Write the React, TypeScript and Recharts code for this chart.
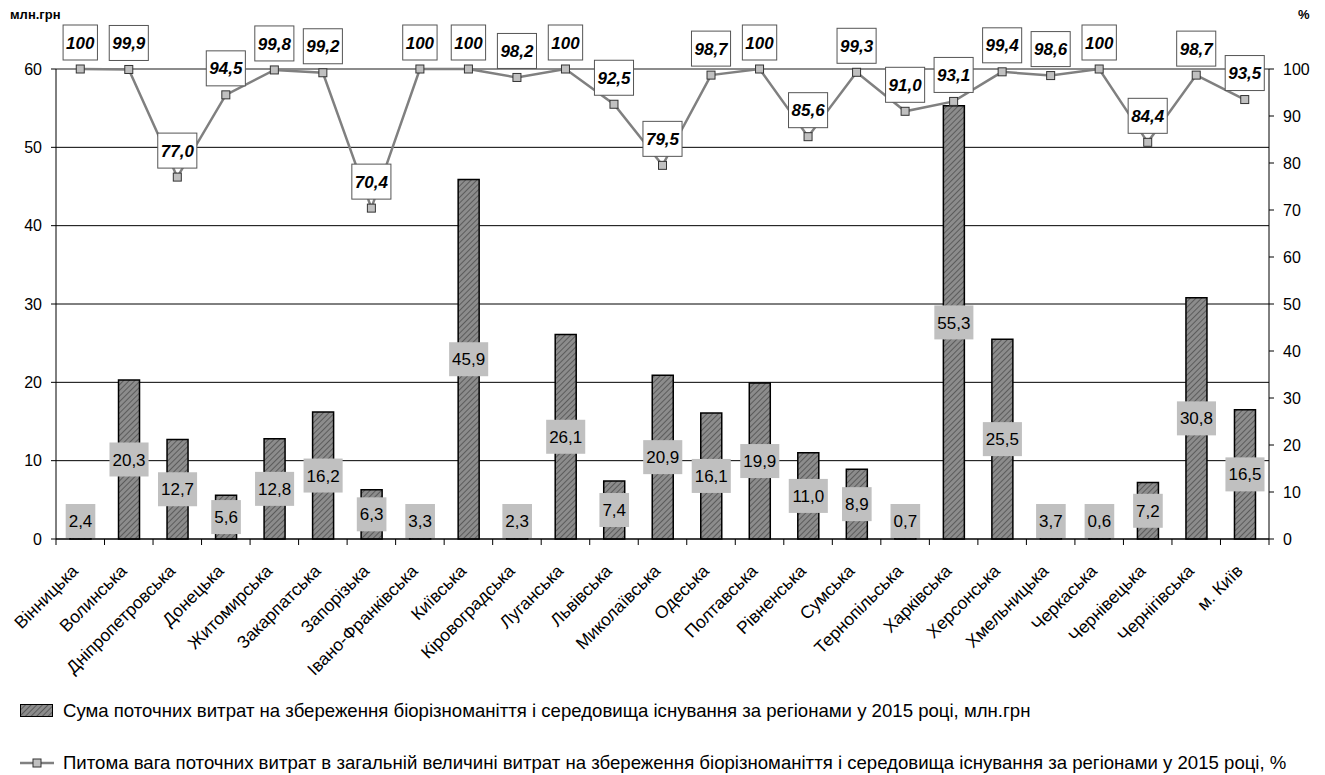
import { ComposedChart, Bar, Line, XAxis, YAxis, CartesianGrid, LabelList, ReferenceLine } from 'recharts';

const regions = [
    'Вінницька', 'Волинська', 'Дніпропетровська', 'Донецька', 'Житомирська', 'Закарпатська',
    'Запорізька', 'Івано-Франківська', 'Київська', 'Кіровоградська', 'Луганська', 'Львівська',
    'Миколаївська', 'Одеська', 'Полтавська', 'Рівненська', 'Сумська', 'Тернопільська',
    'Харківська', 'Херсонська', 'Хмельницька', 'Черкаська', 'Чернівецька', 'Чернігівська', 'м. Київ',
];

// млн.грн
const spending = [
    2.4, 20.3, 12.7, 5.6, 12.8, 16.2, 6.3, 3.3, 45.9, 2.3, 26.1, 7.4,
    20.9, 16.1, 19.9, 11.0, 8.9, 0.7, 55.3, 25.5, 3.7, 0.6, 7.2, 30.8, 16.5,
];

// %
const share = [
    100, 99.9, 77.0, 94.5, 99.8, 99.2, 70.4, 100, 100, 98.2, 100, 92.5,
    79.5, 98.7, 100, 85.6, 99.3, 91.0, 93.1, 99.4, 98.6, 100, 84.4, 98.7, 93.5,
];

const leftTicks = [0, 10, 20, 30, 40, 50, 60];
const rightTicks = [0, 10, 20, 30, 40, 50, 60, 70, 80, 90, 100];

const barLegend = 'Сума поточних витрат на збереження біорізноманіття і середовища існування за регіонами у 2015 році, млн.грн';
const lineLegend = 'Питома вага поточних витрат в загальній величині витрат на збереження біорізноманіття і середовища існування за регіонами у 2015 році, %';

const data = regions.map((region, i) => ({ region, spending: spending[i], share: share[i] }));

const FONT = '"Liberation Sans", Arial, sans-serif';
const PLOT_LEFT = 56;
const PLOT_RIGHT = 1269;
const PLOT_BOTTOM = 539;

const fmt = (v: number) => (v === 100 ? '100' : v.toFixed(1).replace('.', ','));

// rough Arial widths
const textWidth = (s: string, size: number) =>
    s.split('').reduce((w, c) => w + (c === ',' ? 0.278 : 0.556) * size, 0);

const BarValueLabel = (props: any) => {
    const vb = props.viewBox || props;
    const { x, y, width, height } = vb;
    const text = fmt(Number(props.value));
    const w = textWidth(text, 17) + 6;
    const h = 34;
    const cx = x + width / 2;
    const bottom = y + height;
    let cy = y + height / 2;
    if (cy + h / 2 > bottom - 1) cy = bottom - 1 - h / 2;
    return (
        <g>
            <rect x={cx - w / 2} y={cy - h / 2} width={w} height={h} fill="#c0c0c0" />
            <text x={cx} y={cy} dy="0.36em" textAnchor="middle" fontSize={17} fontFamily={FONT} fill="#000">
                {text}
            </text>
        </g>
    );
};

const ShareLabel = (props: any) => {
    const vb = props.viewBox || {};
    const x = vb.x ?? props.x;
    const y = vb.y ?? props.y;
    const text = fmt(Number(props.value));
    const w = textWidth(text, 17) + 6;
    const h = 35;
    const bottom = y - 9;
    return (
        <g>
            <rect x={x - w / 2} y={bottom - h} width={w} height={h} fill="#fff" stroke="#555" strokeWidth={1} />
            <text x={x} y={bottom - h / 2} dy="0.36em" textAnchor="middle" fontSize={17} fontWeight="bold"
                fontStyle="italic" fontFamily={FONT} fill="#000">
                {text}
            </text>
        </g>
    );
};

const SquareDot = (props: any) => {
    const { cx, cy, index } = props;
    return <rect key={index} x={cx - 4} y={cy - 4} width={8} height={8} fill="#c0c0c0" stroke="#333" strokeWidth={1} />;
};

const CategoryTick = (props: any) => {
    const { x, index, payload } = props;
    const half = (PLOT_RIGHT - PLOT_LEFT) / regions.length / 2;
    const tx = x - 1;
    const ty = PLOT_BOTTOM + 33;
    return (
        <g>
            <line x1={x - half} x2={x - half} y1={PLOT_BOTTOM} y2={PLOT_BOTTOM + 6} stroke="#000" />
            {index === regions.length - 1 && (
                <line x1={x + half} x2={x + half} y1={PLOT_BOTTOM} y2={PLOT_BOTTOM + 6} stroke="#000" />
            )}
            <text x={tx} y={ty} textAnchor="end" fontSize={17.5} fontFamily={FONT} fill="#000"
                transform={`rotate(-45, ${tx}, ${ty})`}>
                {payload.value}
            </text>
        </g>
    );
};

const Hatch = ({ id }: { id: string }) => (
    <pattern id={id} width={4} height={4} patternUnits="userSpaceOnUse" patternTransform="rotate(45)">
        <rect width={4} height={4} fill="#8c8c8c" />
        <line x1={0} y1={0} x2={0} y2={4} stroke="#4a4a4a" strokeWidth={1.5} />
    </pattern>
);

export default function App() {
    return (
        <div style={{ position: 'absolute', left: 0, top: 0, width: 1325, height: 775, background: '#fff', fontFamily: FONT }}>
            <div style={{ position: 'absolute', left: 10, top: 7, fontSize: 13, fontWeight: 'bold' }}>млн.грн</div>
            <div style={{ position: 'absolute', left: 1298, top: 7, fontSize: 13, fontWeight: 'bold' }}>%</div>

            <ComposedChart width={1325} height={775} data={data}
                margin={{ top: 69, right: 6, left: 6, bottom: 116 }}>
                <defs>
                    <Hatch id="hatch" />
                </defs>
                <CartesianGrid yAxisId="left" vertical={false} stroke="#000" strokeWidth={1} />
                <XAxis dataKey="region" interval={0} height={120} tick={<CategoryTick />} tickLine={false}
                    axisLine={{ stroke: '#000' }} />
                <YAxis yAxisId="left" domain={[0, 60]} ticks={leftTicks} width={50} tickSize={5} tickMargin={9}
                    axisLine={{ stroke: '#000' }} tickLine={{ stroke: '#000' }}
                    tick={{ fill: '#000', fontSize: 16, fontFamily: FONT }} />
                <YAxis yAxisId="right" orientation="right" domain={[0, 100]} ticks={rightTicks} width={50}
                    tickSize={5} tickMargin={9} axisLine={{ stroke: '#000' }} tickLine={{ stroke: '#000' }}
                    tick={{ fill: '#000', fontSize: 16, fontFamily: FONT, textAnchor: 'start' }} />
                <ReferenceLine yAxisId="left" y={60} stroke="#999" strokeWidth={1} />
                <Bar yAxisId="left" dataKey="spending" barSize={21} fill="url(#hatch)" stroke="#000" strokeWidth={1.5}
                    isAnimationActive={false}>
                    <LabelList dataKey="spending" content={<BarValueLabel />} />
                </Bar>
                <Line yAxisId="right" dataKey="share" stroke="#808080" strokeWidth={2.5} dot={<SquareDot />}
                    activeDot={false} isAnimationActive={false}>
                    <LabelList dataKey="share" content={<ShareLabel />} />
                </Line>
            </ComposedChart>

            <div style={{ position: 'absolute', left: 20, top: 700, height: 22, display: 'flex', alignItems: 'center', fontSize: 18.6, whiteSpace: 'nowrap' }}>
                <svg width={34} height={14} style={{ marginRight: 9 }}>
                    <defs><Hatch id="hatch-legend" /></defs>
                    <rect x={0.5} y={0.5} width={32} height={12} fill="url(#hatch-legend)" stroke="#000" />
                </svg>
                <span>{barLegend}</span>
            </div>
            <div style={{ position: 'absolute', left: 20, top: 752, height: 22, display: 'flex', alignItems: 'center', fontSize: 18.6, whiteSpace: 'nowrap' }}>
                <svg width={34} height={14} style={{ marginRight: 9 }}>
                    <line x1={0} x2={34} y1={7} y2={7} stroke="#808080" strokeWidth={2.5} />
                    <rect x={13} y={3} width={8} height={8} fill="#c0c0c0" stroke="#333" />
                </svg>
                <span>{lineLegend}</span>
            </div>
        </div>
    );
}
